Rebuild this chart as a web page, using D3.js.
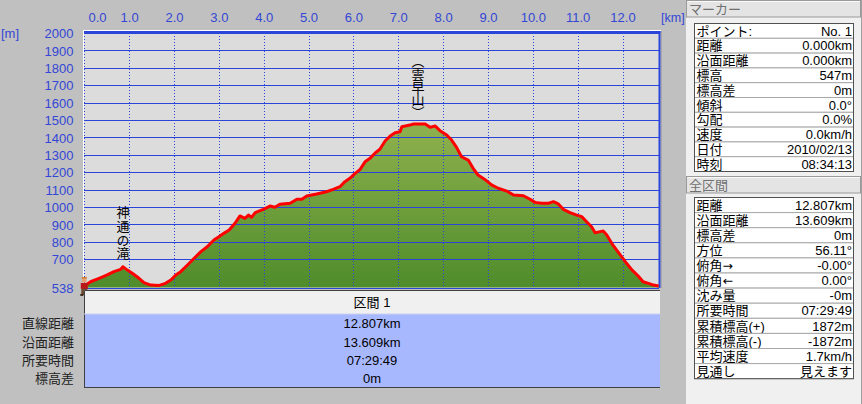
<!DOCTYPE html>
<html><head><meta charset="utf-8">
<script src="https://cdn.jsdelivr.net/npm/d3@7"></script>
<style>
html,body{margin:0;padding:0;background:#c0c0c0;overflow:hidden}
svg{display:block}
text{font-family:"Liberation Sans","Noto Sans CJK JP",sans-serif}
</style></head><body>
<svg id="c" width="862" height="404"></svg>
<script>
// ---------- data ----------
const dist = [0.00,0.14,0.33,0.51,0.66,0.81,0.86,0.96,1.07,1.22,1.33,1.48,1.67,1.81,1.93,2.04,2.15,2.30,2.45,2.60,2.74,2.89,3.00,3.11,3.23,3.36,3.47,3.58,3.66,3.73,3.81,3.99,4.14,4.25,4.36,4.59,4.74,4.85,4.96,5.18,5.40,5.55,5.70,5.81,5.92,6.04,6.15,6.26,6.37,6.48,6.59,6.71,6.82,6.93,7.04,7.08,7.26,7.34,7.60,7.71,7.82,7.93,8.08,8.19,8.30,8.41,8.56,8.67,8.78,8.93,9.08,9.23,9.42,9.57,9.79,9.94,10.05,10.20,10.35,10.46,10.57,10.68,10.83,10.98,11.09,11.20,11.31,11.39,11.50,11.57,11.65,11.76,11.87,11.98,12.09,12.21,12.35,12.46,12.58,12.69,12.807];
const elev = [547,571,591,610,629,642,657,638,620,591,566,552,550,562,581,610,629,667,706,744,772,811,830,849,868,907,949,935,954,941,968,987,1006,999,1016,1022,1045,1045,1064,1075,1088,1102,1117,1146,1165,1194,1217,1260,1280,1309,1332,1381,1408,1427,1433,1462,1471,1477,1477,1458,1466,1439,1414,1385,1343,1289,1270,1223,1184,1159,1127,1108,1092,1069,1065,1045,1027,1022,1022,1031,1018,987,968,954,945,916,887,853,859,862,840,792,753,715,677,639,604,571,562,552,547];
const totalDist = 12.807;
const xTicks = [0,1,2,3,4,5,6,7,8,9,10,11,12];
const yTicks = [700,800,900,1000,1100,1200,1300,1400,1500,1600,1700,1800,1900,2000];
const yMin = 538, yMax = 2000;
const xUnit = "[km]", yUnit = "[m]";
const markNames = ["神通の滝", "（雲早山）"];
const markKm = [0.84, 7.42];
const markerHeader = "マーカー";
const markerLabels = ["ポイント:","距離","沿面距離","標高","標高差","傾斜","勾配","速度","日付","時刻"];
const markerValues = ["No. 1","0.000km","0.000km","547m","0m","0.0°","0.0%","0.0km/h","2010/02/13","08:34:13"];
const totalHeader = "全区間";
const totalLabels = ["距離","沿面距離","標高差","方位","俯角→","俯角←","沈み量","所要時間","累積標高(+)","累積標高(-)","平均速度","見通し"];
const totalValues = ["12.807km","13.609km","0m","56.11°","-0.00°","0.00°","-0m","07:29:49","1872m","-1872m","1.7km/h","見えます"];
const sectionTitle = "区間 1";
const sectionLabels = ["直線距離","沿面距離","所要時間","標高差"];
const sectionValues = ["12.807km","13.609km","07:29:49","0m"];

// ---------- drawing ----------
const svg = d3.select("#c");
const W = 862, H = 404;
const P = {l:84.3, r:658.7, t:33, b:287.5};
const x = d3.scaleLinear().domain([0, totalDist]).range([P.l, P.r]);
const y = d3.scaleLinear().domain([yMin, yMax]).range([P.b, P.t]);
const BLUE = "#2b45da", LBL = "#3346d6";
const FONT = "'Liberation Sans','Noto Sans CJK JP',sans-serif";

svg.append("rect").attr("width", W).attr("height", H).attr("fill", "#c0c0c0");

const defs = svg.append("defs");
const g = defs.append("linearGradient").attr("id","gf").attr("gradientUnits","userSpaceOnUse")
  .attr("x1",0).attr("x2",0).attr("y1",120).attr("y2",288);
g.append("stop").attr("offset",0).attr("stop-color","#90b24e");
g.append("stop").attr("offset",1).attr("stop-color","#4f8c2b");

// plot background
svg.append("rect").attr("x",84).attr("y",31).attr("width",576).attr("height",257).attr("fill","#dcdcdc");
svg.append("path").attr("d","M83.5,288V30.5H661").attr("stroke","#fff").attr("fill","none");

const pts = dist.map((d,i)=>[d, elev[i]]);
svg.append("path").datum(pts)
  .attr("d", d3.area().x(d=>x(d[0])).y0(P.b).y1(d=>y(d[1])))
  .attr("fill","url(#gf)");

// grid
const grid = svg.append("g");
grid.selectAll("line.h").data(yTicks.concat([yMin])).join("line")
  .attr("x1",84).attr("x2",659).attr("y1",d=>Math.round(y(d))+0.5).attr("y2",d=>Math.round(y(d))+0.5)
  .attr("stroke",BLUE).attr("stroke-width",1);
grid.selectAll("line.v").data(xTicks).join("line")
  .attr("x1",d=>Math.round(x(d))+0.5).attr("x2",d=>Math.round(x(d))+0.5).attr("y1",33).attr("y2",287)
  .attr("stroke",BLUE).attr("stroke-width",1).attr("stroke-dasharray","1,2");
// borders
svg.append("line").attr("x1",84).attr("x2",660.5).attr("y1",32).attr("y2",32).attr("stroke",BLUE).attr("stroke-width",2);
svg.append("line").attr("x1",659.5).attr("x2",659.5).attr("y1",31).attr("y2",288).attr("stroke",BLUE).attr("stroke-width",2);
svg.append("line").attr("x1",661.5).attr("x2",661.5).attr("y1",31).attr("y2",288).attr("stroke","#a8a8a8").attr("stroke-width",1);

// profile line
svg.append("path").datum(pts)
  .attr("d", d3.line().x(d=>x(d[0])).y(d=>y(d[1])))
  .attr("fill","none").attr("stroke","#ff0000").attr("stroke-width",3).attr("stroke-linejoin","round");

// axes
const ax = svg.append("g").attr("transform","translate(0,21.5)")
  .call(d3.axisTop(x).tickValues(xTicks).tickFormat(d3.format(".1f")).tickSize(0).tickPadding(0));
ax.select(".domain").remove();
ax.selectAll("text").attr("fill",LBL).attr("font-size",13).attr("font-family",FONT);
ax.selectAll("text").filter(d=>d===0).attr("text-anchor","start").attr("dx",3.7);

const ay = svg.append("g").attr("transform","translate(73.5,0)")
  .call(d3.axisLeft(y).tickValues([yMin].concat(yTicks)).tickFormat(d3.format("d")).tickSize(0).tickPadding(0));
ay.select(".domain").remove();
ay.selectAll("text").attr("fill",LBL).attr("font-size",13).attr("font-family",FONT).attr("dy","0.36em");

svg.append("text").attr("x",1).attr("y",33).attr("dy","0.36em").attr("fill",LBL).attr("font-size",13).text(yUnit);
svg.append("text").attr("x",661).attr("y",17).attr("dy","0.36em").attr("fill",LBL).attr("font-size",12.5).text(xUnit);

// vertical place labels
const mk = svg.append("g").attr("fill","#000").attr("font-size",13)
  .style("font-family","'Noto Sans CJK JP',sans-serif");
mk.append("text").attr("x",x(markKm[0])).attr("y",206)
  .style("writing-mode","vertical-rl").style("letter-spacing","0.6px").text(markNames[0]);
mk.append("text").attr("x",x(markKm[1])).attr("y",55)
  .style("writing-mode","vertical-rl").style("letter-spacing","-0.4px").text(markNames[1]);

// hiker icon at start
{
  const hx = x(0), hy = y(elev[0]);
  const h = svg.append("g").attr("transform",`translate(${hx},${hy})`);
  h.append("rect").attr("x",-2.5).attr("y",-9).attr("width",5).attr("height",2).attr("fill","#d08030");
  h.append("circle").attr("cx",0).attr("cy",-5.5).attr("r",2.3).attr("fill","#e6a070");
  h.append("rect").attr("x",-3.5).attr("y",-3).attr("width",7).attr("height",6).attr("fill","#b81818");
  h.append("rect").attr("x",-3).attr("y",3).attr("width",6).attr("height",6).attr("fill","#6b4a2e");
  h.append("rect").attr("x",-4).attr("y",8).attr("width",3).attr("height",2).attr("fill","#3a2a1a");
  h.append("rect").attr("x",1).attr("y",8).attr("width",3).attr("height",2).attr("fill","#3a2a1a");
}

// ---------- bottom section table ----------
const bx0 = 84, bx1 = 660, cxB = (bx0+bx1)/2;
svg.append("rect").attr("x",bx0).attr("y",290).attr("width",bx1-bx0).attr("height",24).attr("fill","#f0f0f0");
svg.append("rect").attr("x",bx0).attr("y",314).attr("width",bx1-bx0).attr("height",73).attr("fill","#a8b8ff");
svg.append("path").attr("d",`M${bx0+0.5},387.5V290.5H${bx1}`).attr("stroke","#404040").attr("fill","none");
svg.append("line").attr("x1",bx0).attr("x2",bx1).attr("y1",387.5).attr("y2",387.5).attr("stroke","#404040");
svg.append("line").attr("x1",bx0).attr("x2",bx1).attr("y1",314).attr("y2",314).attr("stroke","#c8d0f0");
svg.append("text").attr("x",cxB).attr("y",302).attr("dy","0.36em").attr("text-anchor","middle").attr("font-size",13).attr("fill","#000").text(sectionTitle);
const secRows = svg.append("g").attr("font-size",13);
sectionLabels.forEach((l,i)=>{
  const yy = 323.6 + i*18.3;
  secRows.append("text").attr("x",74).attr("y",yy).attr("dy","0.36em").attr("text-anchor","end").attr("fill","#222").text(l);
  secRows.append("text").attr("x",cxB).attr("y",yy).attr("dy","0.36em").attr("text-anchor","middle").attr("fill","#000").text(sectionValues[i]);
});

// ---------- right panel ----------
const rp = svg.append("g");
rp.append("rect").attr("x",686).attr("y",0).attr("width",176).attr("height",404).attr("fill","#f0f0f0");
rp.append("line").attr("x1",861.5).attr("x2",861.5).attr("y1",0).attr("y2",404).attr("stroke","#a0a0a0");

function header(y0, y1, label){
  rp.append("rect").attr("x",686.5).attr("y",y0+0.5).attr("width",174).attr("height",y1-y0-1)
    .attr("fill","#e4e4e4").attr("stroke","#9a9a9a");
  rp.append("line").attr("x1",687.5).attr("x2",860).attr("y1",y0+1.5).attr("y2",y0+1.5).attr("stroke","#fafafa");
  rp.append("text").attr("x",689).attr("y",(y0+y1)/2+0.5).attr("dy","0.36em").attr("font-size",13)
    .attr("fill","#707070").text(label);
}
function labelText(sel, l){
  // render arrows with a wider glyph font
  const parts = l.split(/([→←])/).filter(s=>s.length);
  parts.forEach(p=>{
    const t = sel.append("tspan").text(p);
    if (p==="→"||p==="←") t.style("font-family","'DejaVu Sans',sans-serif").attr("font-size",12.4);
  });
}
function table(y0, rh, labels, values){
  const tx0 = 694.5, tw = 159;
  labels.forEach((l,i)=>{
    const ry = y0 + i*rh;
    rp.append("rect").attr("x",tx0).attr("y",ry).attr("width",tw).attr("height",rh)
      .attr("fill","#fff").attr("stroke","#a8a8a8");
    const t = rp.append("text").attr("x",696.5).attr("y",ry+rh/2).attr("dy","0.36em").attr("font-size",13).attr("fill","#000");
    labelText(t, l);
    rp.append("text").attr("x",852).attr("y",ry+rh/2).attr("dy","0.36em").attr("font-size",13).attr("text-anchor","end").attr("fill","#000").text(values[i]);
  });
  rp.append("rect").attr("x",tx0).attr("y",y0).attr("width",tw).attr("height",rh*labels.length)
    .attr("fill","none").attr("stroke","#505050");
}
header(0, 17.5, markerHeader);
table(23.5, 14.8, markerLabels, markerValues);
header(176, 193.5, totalHeader);
table(197.5, 15.1, totalLabels, totalValues);
</script>
</body></html>
